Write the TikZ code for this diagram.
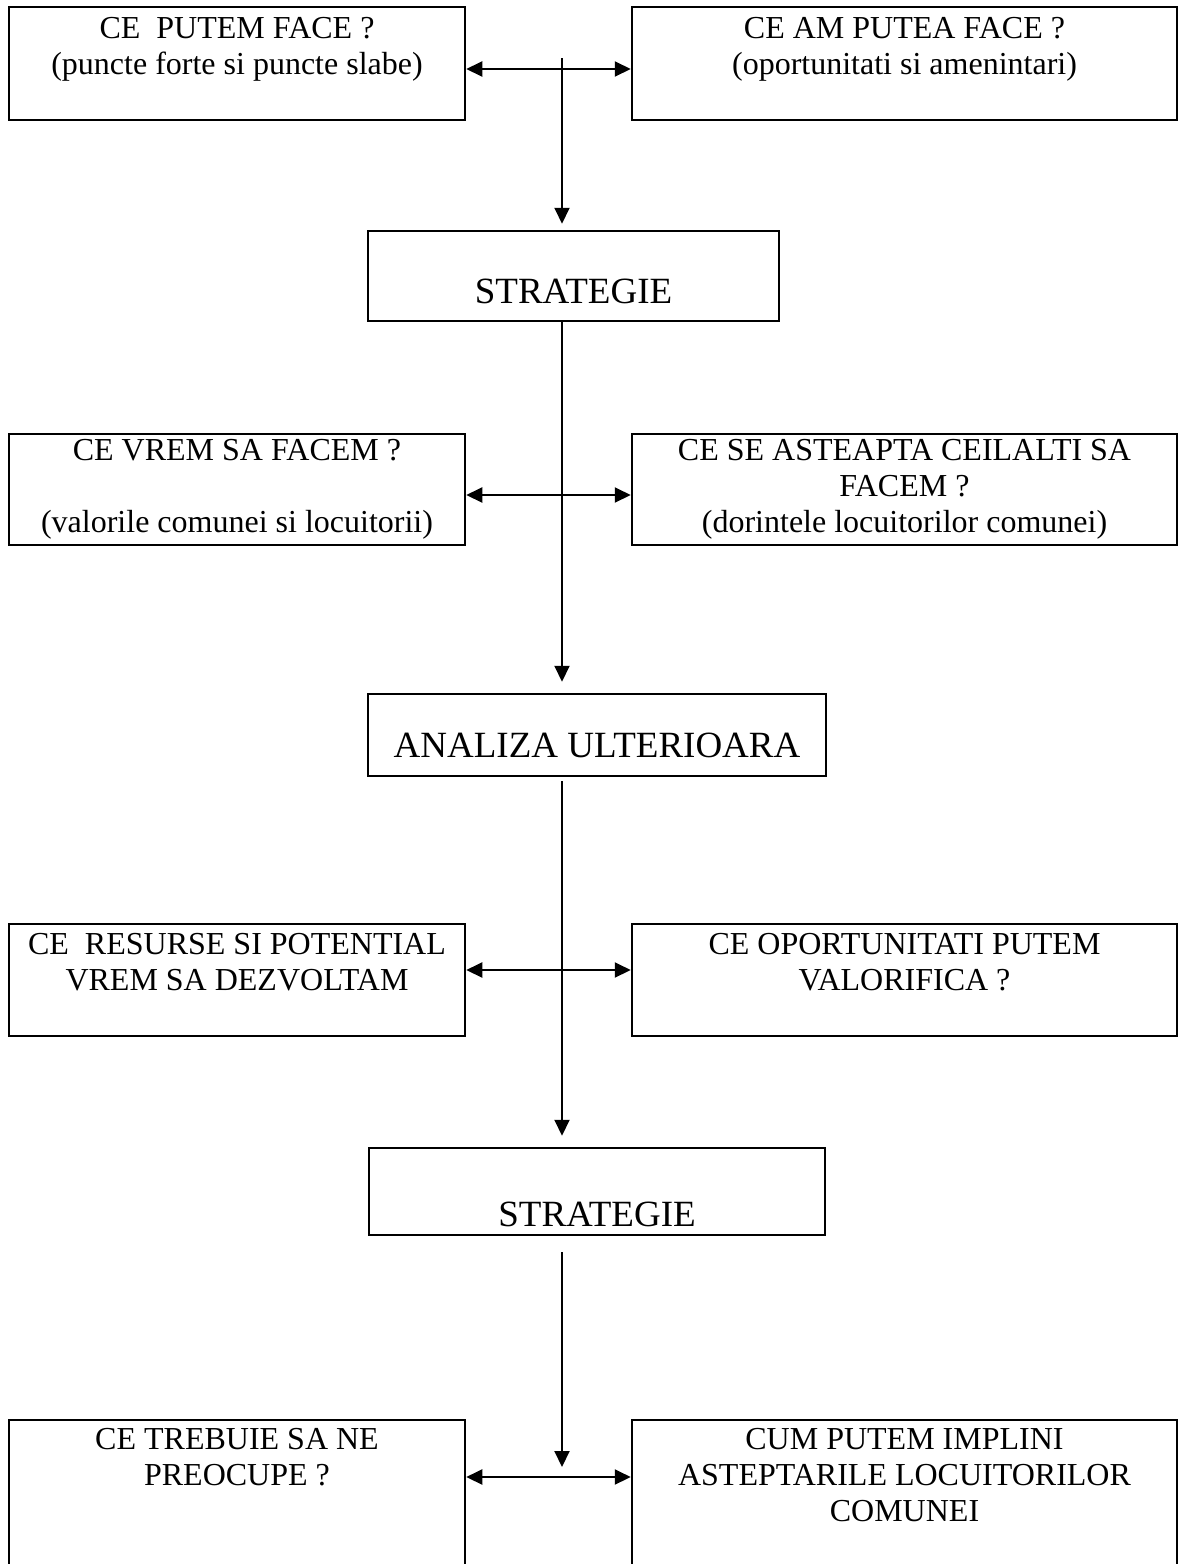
\documentclass[tikz,border=0pt]{standalone}
\usepackage{fontspec}
\setmainfont{Liberation Serif}
\usetikzlibrary{arrows.meta,positioning}
\tikzset{
	frame/.style={
		rectangle, draw, line width=1.25pt,
		inner sep=0pt, align=center,
		font=\fontsize{16}{18}\selectfont,
	},
	leftbox/.style={frame, minimum width=228pt},
	rightbox/.style={frame, minimum width=272.5pt},
	mainbox/.style={frame, font=\fontsize{18.5}{21}\selectfont, text depth=0pt},
	line/.style={
		draw, line width=1pt, -{Triangle[length=8pt,width=7.5pt]},
	},
	dline/.style={
		line, {Triangle[length=8pt,width=7.5pt]}-{Triangle[length=8pt,width=7.5pt]},
	}
}

\begin{document}
\begin{tikzpicture}[x=0.5pt, y=-0.5pt]
				\clip (0,0) rectangle (1179,1564);
				
				\node [leftbox, minimum height=56.5pt] (putem) at (237,63.5) {CE~ PUTEM FACE ?\\(puncte forte si puncte slabe)\\~};
				\node [rightbox, minimum height=56.5pt] (amputea) at (904.5,63.5) {CE AM PUTEA FACE ?\\(oportunitati si amenintari)\\~};
				\node [mainbox, minimum width=205.5pt, minimum height=45pt, text height=27pt] (strat) at (573.5,276) {STRATEGIE};
				\node [leftbox, minimum height=55.5pt] (vrem) at (237,489.5) {CE VREM SA FACEM ?\\~\\(valorile comunei si locuitorii)};
				\node [rightbox, minimum height=55.5pt] (asteapta) at (904.5,489.5) {CE SE ASTEAPTA CEILALTI SA\\FACEM ?\\(dorintele locuitorilor comunei)};
				\node [mainbox, minimum width=229pt, minimum height=41pt, text height=22pt] (analiza) at (597,735) {ANALIZA ULTERIOARA};
				\node [leftbox, minimum height=56pt] (resurse) at (237,980) {CE~ RESURSE SI POTENTIAL\\VREM SA DEZVOLTAM\\~};
				\node [rightbox, minimum height=56pt] (oportun) at (904.5,980) {CE OPORTUNITATI PUTEM\\VALORIFICA ?\\~};
				\node [mainbox, minimum width=228pt, minimum height=43.5pt, text height=34.5pt] (strat2) at (597,1191.5) {STRATEGIE};
				\node [leftbox, minimum height=91pt] (preocupe) at (237,1511) {CE TREBUIE SA NE\\PREOCUPE ?\\~\\~\\~};
				\node [rightbox, minimum height=91pt] (implini) at (904.5,1511) {CUM PUTEM IMPLINI\\ASTEPTARILE LOCUITORILOR\\COMUNEI\\~\\~};
				
				\coordinate (stem) at (562,58);
				\coordinate (stem2) at (562,1252);
				\coordinate (stemend) at (562,1467);
				
				\path [dline] ([yshift=-2.75pt]putem.east) -- ([yshift=-2.75pt]amputea.west);
				\path [dline] ([yshift=-2.75pt]vrem.east) -- ([yshift=-2.75pt]asteapta.west);
				\path [dline] ([yshift=5pt]resurse.east) -- ([yshift=5pt]oportun.west);
				\path [dline] ([yshift=17pt]preocupe.east) -- ([yshift=17pt]implini.west);
				
				\path [line, shorten >=3pt] (stem) -- (stem |- strat.north);
				\path [line, shorten >=5.5pt] (strat.south -| stem) -- (analiza.north -| stem);
				\path [line, shorten <=2pt, shorten >=5.5pt] (analiza.south -| stem) -- (strat2.north -| stem);
				\path [line] (stem2) -- (stemend);
\end{tikzpicture}
\end{document}
